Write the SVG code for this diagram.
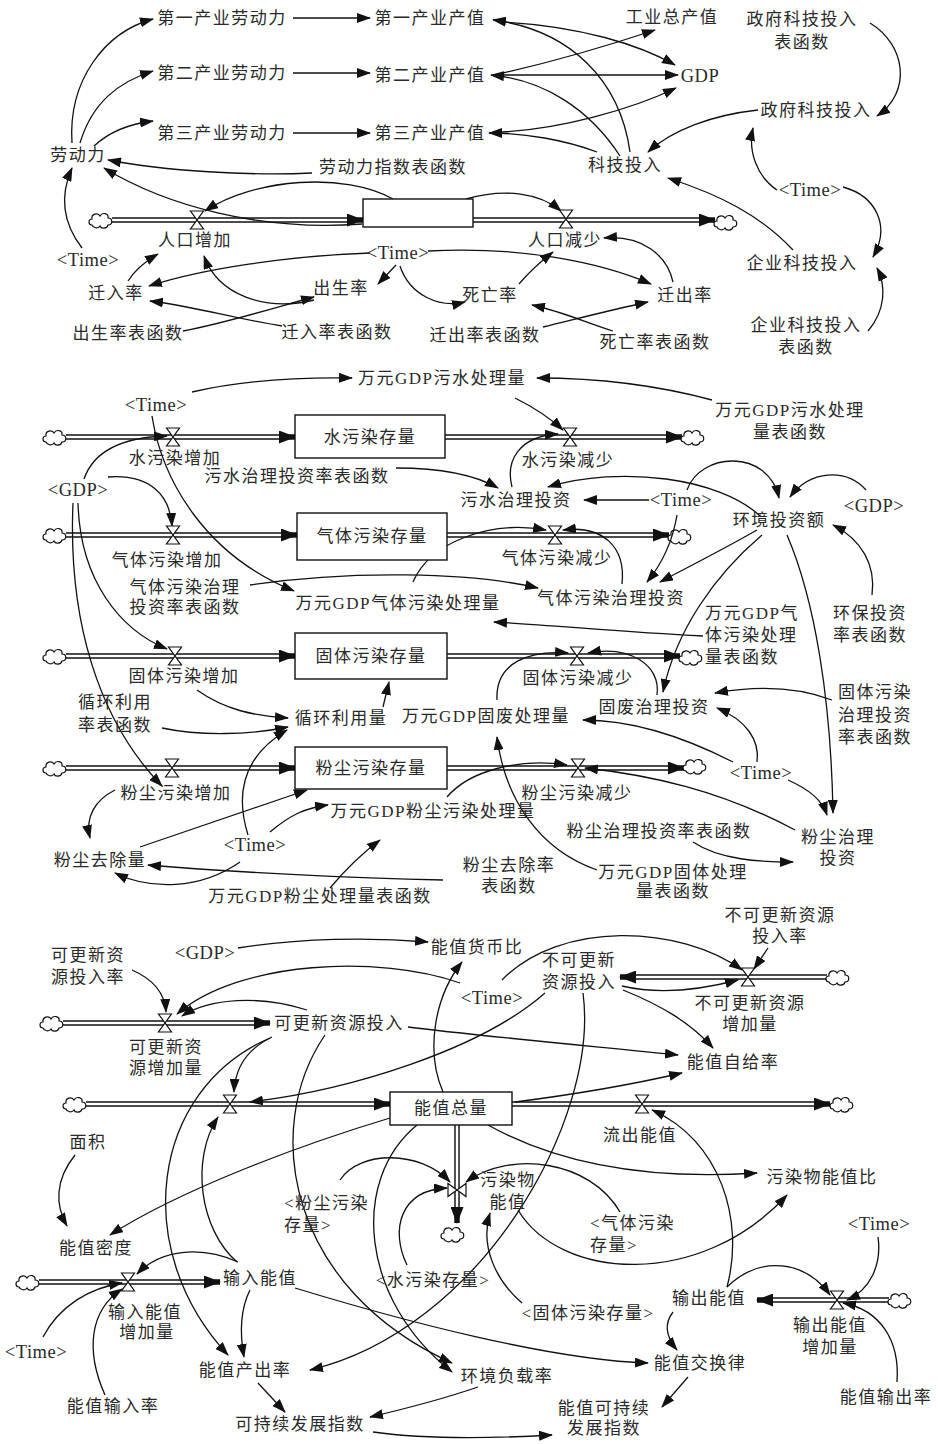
<svg xmlns="http://www.w3.org/2000/svg" width="938" height="1444" viewBox="0 0 938 1444">
<style>
.t{font-family:"Liberation Serif","Noto Sans CJK SC",serif;font-size:17px;letter-spacing:1.5px;text-anchor:middle;dominant-baseline:central;fill:#2a2a2a}
.l{font-size:18.5px;letter-spacing:0.5px}
.s{text-anchor:start}
.c{fill:none;stroke:#111;stroke-width:1.3;marker-end:url(#a)}
.po{fill:none;stroke:#111;stroke-width:5.5}
.pa{marker-end:url(#pa)}
.pi{fill:none;stroke:#fff;stroke-width:2.6}
.box{fill:#fff;stroke:#111;stroke-width:1.4}
.vl{fill:#fff;stroke:#111;stroke-width:1.2}
</style>
<defs>
<marker id="a" viewBox="0 0 14 10" refX="13" refY="5" markerWidth="14" markerHeight="10" markerUnits="userSpaceOnUse" orient="auto"><path d="M0,0 L14,5 L0,10 Z" fill="#111"/></marker>
<marker id="pa" viewBox="0 0 17 13" refX="16" refY="6.5" markerWidth="17" markerHeight="13" markerUnits="userSpaceOnUse" orient="auto"><path d="M0,0 L17,6.5 L0,13 Z" fill="#111"/></marker>
<path id="valve" class="vl" d="M-6.5,-9 H6.5 L-6.5,9 H6.5 Z"/>
<path id="valveV" class="vl" d="M-9,-6.5 V6.5 L9,-6.5 V6.5 Z"/>
<path id="cloud" class="vl" d="M-9,5 C-13,5 -13,-1 -9,-1 C-10,-6 -3,-8 -1,-4 C1,-8 8,-7 7,-2 C12,-2 12,5 7,5 C6,9 0,9 -1,6 C-3,9 -8,8 -9,5 Z"/>
</defs>
<rect width="938" height="1444" fill="#fff"/>

<g id="flows">
<path class="po pa" d="M112,220 H363"/><path class="pi" d="M112,220 H347"/>
<path class="po pa" d="M473,220 H715"/><path class="pi" d="M473,220 H699"/>
<use href="#cloud" x="101" y="220"/><use href="#cloud" x="726" y="222"/>
<path class="po pa" d="M66,437 H295"/><path class="pi" d="M66,437 H279"/>
<path class="po pa" d="M445,437 H682"/><path class="pi" d="M445,437 H666"/>
<use href="#cloud" x="55" y="437"/><use href="#cloud" x="693" y="437"/>
<path class="po pa" d="M66,535 H297"/><path class="pi" d="M66,535 H281"/>
<path class="po pa" d="M447,535 H669"/><path class="pi" d="M447,535 H653"/>
<use href="#cloud" x="55" y="535"/><use href="#cloud" x="680" y="536"/>
<path class="po pa" d="M66,656 H295"/><path class="pi" d="M66,656 H279"/>
<path class="po pa" d="M447,656 H680"/><path class="pi" d="M447,656 H664"/>
<use href="#cloud" x="55" y="656"/><use href="#cloud" x="691" y="657"/>
<path class="po pa" d="M66,768 H295"/><path class="pi" d="M66,768 H279"/>
<path class="po pa" d="M447,768 H684"/><path class="pi" d="M447,768 H668"/>
<use href="#cloud" x="55" y="768"/><use href="#cloud" x="695" y="766"/>
<path class="po pa" d="M63,1023 H270"/><path class="pi" d="M63,1023 H254"/>
<use href="#cloud" x="52" y="1023"/>
<path class="po pa" d="M827,977 H620"/><path class="pi" d="M827,977 H636"/>
<use href="#cloud" x="838" y="977"/>
<path class="po pa" d="M86,1104 H390"/><path class="pi" d="M86,1104 H374"/>
<path class="po pa" d="M512,1104 H830"/><path class="pi" d="M512,1104 H814"/>
<use href="#cloud" x="75" y="1104"/><use href="#cloud" x="842" y="1104"/>
<path class="po pa" d="M457,1125 V1223"/><path class="pi" d="M457,1125 V1207"/>
<use href="#cloud" x="453" y="1234"/>
<path class="po pa" d="M39,1282 H220"/><path class="pi" d="M39,1282 H204"/>
<use href="#cloud" x="28" y="1282"/>
<path class="po pa" d="M889,1300 H757"/><path class="pi" d="M889,1300 H773"/>
<use href="#cloud" x="900" y="1300"/>
</g>

<g id="connectors">
<path class="c" d="M72,143 C68,80 105,32 153,19"/>
<path class="c" d="M80,143 C92,103 118,82 153,71"/>
<path class="c" d="M94,146 C108,133 128,124 153,121"/>
<path class="c" d="M293,18 L370,18"/>
<path class="c" d="M293,73 L370,73"/>
<path class="c" d="M293,133 L370,133"/>
<path class="c" d="M312,173 C250,176 165,171 108,160"/>
<path class="c" d="M362,224 C260,232 165,205 104,168"/>
<path class="c" d="M393,199 C345,172 255,178 205,211"/>
<path class="c" d="M466,199 C505,188 540,193 561,211"/>
<path class="c" d="M82,248 C62,222 60,195 72,168"/>
<path class="c" d="M128,281 C135,270 146,261 158,254"/>
<path class="c" d="M370,253 C290,256 205,268 149,286"/>
<path class="c" d="M396,265 L378,284"/>
<path class="c" d="M400,266 C410,296 440,308 465,302"/>
<path class="c" d="M428,251 C520,246 600,262 651,284"/>
<path class="c" d="M314,300 C265,312 218,295 204,256"/>
<path class="c" d="M183,331 C230,322 280,306 314,297"/>
<path class="c" d="M282,326 C232,318 192,306 150,301"/>
<path class="c" d="M519,284 C530,271 540,262 553,252"/>
<path class="c" d="M673,282 C667,255 642,235 604,238"/>
<path class="c" d="M543,327 C580,318 615,309 648,302"/>
<path class="c" d="M613,331 C585,322 560,311 532,305"/>
<path class="c" d="M503,22 C580,26 640,45 675,65"/>
<path class="c" d="M630,152 C620,80 570,30 493,20"/>
<path class="c" d="M503,75 L678,75"/>
<path class="c" d="M503,73 C560,60 610,45 655,30"/>
<path class="c" d="M620,156 C590,110 545,80 491,75"/>
<path class="c" d="M502,132 C560,129 630,110 676,88"/>
<path class="c" d="M597,152 C565,140 525,133 489,133"/>
<path class="c" d="M758,110 C712,115 672,130 648,152"/>
<path class="c" d="M870,23 C906,45 912,92 877,116"/>
<path class="c" d="M777,190 C756,176 748,150 753,128"/>
<path class="c" d="M843,187 C876,196 891,226 873,257"/>
<path class="c" d="M793,250 C760,215 720,195 668,178"/>
<path class="c" d="M868,331 C886,310 886,285 877,268"/>

<path class="c" d="M192,392 C240,381 290,377 352,378"/>
<path class="c" d="M712,400 C660,386 600,378 537,378"/>
<path class="c" d="M515,398 C535,408 550,418 563,430"/>
<path class="c" d="M512,487 C505,460 520,436 558,434"/>
<path class="c" d="M152,416 C162,480 205,555 294,591"/>
<path class="c" d="M84,479 C95,447 130,437 167,436"/>
<path class="c" d="M108,477 C150,474 170,495 172,526"/>
<path class="c" d="M78,503 C80,580 120,630 167,649"/>
<path class="c" d="M73,503 C68,620 98,720 162,786"/>
<path class="c" d="M396,468 C440,468 475,475 498,488"/>
<path class="c" d="M649,500 L584,500"/>
<path class="c" d="M760,516 C720,478 620,465 548,487"/>
<path class="c" d="M687,490 C700,452 768,448 779,498"/>
<path class="c" d="M866,490 C846,468 810,470 790,497"/>
<path class="c" d="M872,595 C876,565 862,540 833,525"/>
<path class="c" d="M677,515 C672,545 661,565 647,582"/>
<path class="c" d="M757,530 C722,550 692,565 660,582"/>
<path class="c" d="M622,584 C626,546 602,525 563,530"/>
<path class="c" d="M250,585 C350,570 470,572 538,588"/>
<path class="c" d="M413,582 C430,542 490,520 546,530"/>
<path class="c" d="M703,636 C620,632 552,625 494,622"/>
<path class="c" d="M762,535 C715,575 676,630 663,692"/>
<path class="c" d="M787,535 C815,600 831,700 833,813"/>
<path class="c" d="M832,700 C800,688 760,685 715,693"/>
<path class="c" d="M757,762 C760,740 746,720 717,708"/>
<path class="c" d="M733,762 C680,735 630,720 583,720"/>
<path class="c" d="M788,780 C810,790 822,800 827,815"/>
<path class="c" d="M795,830 C720,790 650,775 585,768"/>
<path class="c" d="M657,695 C661,665 630,645 588,653"/>
<path class="c" d="M497,700 C495,662 530,650 568,653"/>
<path class="c" d="M383,707 L389,682"/>
<path class="c" d="M197,690 C225,710 255,716 288,718"/>
<path class="c" d="M162,728 C200,736 250,735 288,727"/>
<path class="c" d="M248,835 C234,790 245,755 287,730"/>
<path class="c" d="M140,847 L307,790"/>
<path class="c" d="M115,790 C95,800 85,817 90,838"/>
<path class="c" d="M270,832 C290,815 305,808 328,805"/>
<path class="c" d="M240,862 C200,890 150,890 115,873"/>
<path class="c" d="M330,888 C345,870 360,855 380,840"/>
<path class="c" d="M443,880 C350,878 230,872 148,865"/>
<path class="c" d="M447,797 C470,770 520,758 567,765"/>
<path class="c" d="M597,870 C540,850 505,800 497,737"/>
<path class="c" d="M693,842 C720,860 760,862 793,862"/>

<path class="c" d="M238,948 C300,938 370,937 428,942"/>
<path class="c" d="M443,1092 C425,1050 435,996 462,962"/>
<path class="c" d="M502,980 C560,920 680,925 742,970"/>
<path class="c" d="M768,948 L754,969"/>
<path class="c" d="M622,986 C660,995 700,990 738,980"/>
<path class="c" d="M623,990 C660,1005 690,1022 713,1048"/>
<path class="c" d="M408,1027 C470,1035 600,1047 678,1055"/>
<path class="c" d="M515,1102 C570,1095 630,1085 682,1073"/>
<path class="c" d="M545,993 C480,1050 350,1090 250,1102"/>
<path class="c" d="M460,983 C380,955 240,960 177,1014"/>
<path class="c" d="M132,970 C155,980 165,995 166,1012"/>
<path class="c" d="M307,1010 C260,995 210,998 182,1016"/>
<path class="c" d="M272,1037 C245,1050 235,1070 234,1092"/>
<path class="c" d="M270,1038 C150,1090 130,1250 228,1355"/>
<path class="c" d="M325,1035 C260,1130 290,1290 452,1363"/>
<path class="c" d="M417,1125 C350,1180 360,1300 452,1372"/>
<path class="c" d="M583,993 C600,1120 480,1330 310,1370"/>
<path class="c" d="M390,1118 C300,1145 180,1190 110,1235"/>
<path class="c" d="M75,1155 C55,1180 55,1205 67,1226"/>
<path class="c" d="M237,1262 C200,1230 190,1160 218,1117"/>
<path class="c" d="M250,1290 C240,1310 240,1335 244,1357"/>
<path class="c" d="M238,1262 C200,1245 160,1250 137,1274"/>
<path class="c" d="M43,1337 C60,1305 90,1288 122,1283"/>
<path class="c" d="M105,1395 C85,1350 90,1310 122,1289"/>
<path class="c" d="M295,1288 C400,1320 550,1360 648,1363"/>
<path class="c" d="M258,1383 L285,1412"/>
<path class="c" d="M478,1387 C440,1400 400,1410 370,1417"/>
<path class="c" d="M373,1432 C430,1440 500,1438 552,1435"/>
<path class="c" d="M688,1377 L662,1407"/>
<path class="c" d="M673,1312 C663,1325 667,1338 677,1350"/>
<path class="c" d="M727,1287 C745,1220 720,1140 652,1110"/>
<path class="c" d="M727,1287 C760,1255 805,1260 830,1295"/>
<path class="c" d="M878,1237 C882,1265 870,1290 847,1300"/>
<path class="c" d="M897,1382 C900,1340 880,1310 843,1303"/>
<path class="c" d="M518,1210 C560,1280 700,1290 787,1195"/>
<path class="c" d="M488,1125 C560,1165 650,1180 757,1173"/>
<path class="c" d="M340,1180 C360,1150 420,1150 450,1182"/>
<path class="c" d="M407,1265 C390,1230 400,1190 447,1188"/>
<path class="c" d="M620,1212 C590,1160 510,1150 466,1182"/>
<path class="c" d="M522,1303 C495,1280 480,1245 490,1213"/>
</g>

<g id="n_l1"><text class="t" x="222" y="18">第一产业劳动力</text></g>
<g id="n_l2"><text class="t" x="222" y="73">第二产业劳动力</text></g>
<g id="n_l3"><text class="t" x="222" y="133">第三产业劳动力</text></g>
<g id="n_v1"><text class="t" x="430" y="18">第一产业产值</text></g>
<g id="n_v2"><text class="t" x="430" y="75">第二产业产值</text></g>
<g id="n_v3"><text class="t" x="430" y="133">第三产业产值</text></g>
<g id="n_labor"><text class="t" x="78" y="155">劳动力</text></g>
<g id="n_lidx"><text class="t" x="393" y="167">劳动力指数表函数</text></g>
<g id="n_pop"><rect class="box" x="363" y="199" width="110" height="28"/></g>
<g id="n_popin"><use href="#valve" x="197" y="220"/><text class="t" x="195" y="240">人口增加</text></g>
<g id="n_popout"><use href="#valve" x="566" y="219"/><text class="t" x="565" y="240">人口减少</text></g>
<g id="n_time1"><text class="t l" x="88" y="260">&lt;Time&gt;</text></g>
<g id="n_time2"><text class="t l" x="398" y="253">&lt;Time&gt;</text></g>
<g id="n_inrate"><text class="t" x="116" y="293">迁入率</text></g>
<g id="n_birth"><text class="t" x="341" y="288">出生率</text></g>
<g id="n_birthf"><text class="t" x="128" y="333">出生率表函数</text></g>
<g id="n_inratef"><text class="t" x="337" y="332">迁入率表函数</text></g>
<g id="n_death"><text class="t" x="490" y="295">死亡率</text></g>
<g id="n_outf"><text class="t" x="485" y="335">迁出率表函数</text></g>
<g id="n_deathf"><text class="t" x="655" y="342">死亡率表函数</text></g>
<g id="n_outrate"><text class="t" x="685" y="295">迁出率</text></g>
<g id="n_indus"><text class="t" x="672" y="17">工业总产值</text></g>
<g id="n_gdp"><text class="t l" x="700" y="76">GDP</text></g>
<g id="n_tech"><text class="t" x="625" y="165">科技投入</text></g>
<g id="n_govf"><text class="t" x="802" y="19">政府科技投入</text><text class="t" x="802" y="42">表函数</text></g>
<g id="n_gov"><text class="t" x="816" y="110">政府科技投入</text></g>
<g id="n_time3"><text class="t l" x="810" y="190">&lt;Time&gt;</text></g>
<g id="n_ent"><text class="t" x="802" y="263">企业科技投入</text></g>
<g id="n_entf"><text class="t" x="806" y="325">企业科技投入</text><text class="t" x="806" y="347">表函数</text></g>

<g id="n_wtp"><text class="t" x="442" y="378">万元GDP污水处理量</text></g>
<g id="n_time4"><text class="t l" x="156" y="405">&lt;Time&gt;</text></g>
<g id="n_wtpf"><text class="t" x="790" y="410">万元GDP污水处理</text><text class="t" x="790" y="432">量表函数</text></g>
<g id="n_water"><rect class="box" x="295" y="415" width="150" height="43"/><text class="t" x="370" y="437">水污染存量</text></g>
<g id="n_win"><use href="#valve" x="173" y="437"/><text class="t" x="175" y="458">水污染增加</text></g>
<g id="n_wout"><use href="#valve" x="570" y="437"/><text class="t" x="568" y="460">水污染减少</text></g>
<g id="n_wif"><text class="t" x="297" y="476">污水治理投资率表函数</text></g>
<g id="n_gdp2"><text class="t l" x="78" y="490">&lt;GDP&gt;</text></g>
<g id="n_winv"><text class="t" x="516" y="500">污水治理投资</text></g>
<g id="n_time5"><text class="t l" x="681" y="500">&lt;Time&gt;</text></g>
<g id="n_env"><text class="t" x="779" y="520">环境投资额</text></g>
<g id="n_gdp3"><text class="t l" x="874" y="506">&lt;GDP&gt;</text></g>
<g id="n_gas"><rect class="box" x="297" y="513" width="150" height="47"/><text class="t" x="372" y="536">气体污染存量</text></g>
<g id="n_gin"><use href="#valve" x="173" y="535"/><text class="t" x="167" y="560">气体污染增加</text></g>
<g id="n_gout"><use href="#valve" x="555" y="535"/><text class="t" x="557" y="558">气体污染减少</text></g>
<g id="n_gif"><text class="t" x="185" y="587">气体污染治理</text><text class="t" x="185" y="607">投资率表函数</text></g>
<g id="n_gtp"><text class="t" x="398" y="603">万元GDP气体污染处理量</text></g>
<g id="n_ginv"><text class="t" x="611" y="598">气体污染治理投资</text></g>
<g id="n_gtpf"><text class="t s" x="705" y="613">万元GDP气</text><text class="t s" x="705" y="635">体污染处理</text><text class="t s" x="705" y="657">量表函数</text></g>
<g id="n_envf"><text class="t" x="870" y="613">环保投资</text><text class="t" x="870" y="635">率表函数</text></g>
<g id="n_solid"><rect class="box" x="295" y="633" width="152" height="46"/><text class="t" x="371" y="656">固体污染存量</text></g>
<g id="n_sin"><use href="#valve" x="175" y="656"/><text class="t" x="184" y="676">固体污染增加</text></g>
<g id="n_sout"><use href="#valve" x="577" y="656"/><text class="t" x="578" y="678">固体污染减少</text></g>
<g id="n_recf"><text class="t" x="115" y="702">循环利用</text><text class="t" x="115" y="725">率表函数</text></g>
<g id="n_rec"><text class="t" x="341" y="718">循环利用量</text></g>
<g id="n_stp"><text class="t" x="486" y="716">万元GDP固废处理量</text></g>
<g id="n_sinv"><text class="t" x="654" y="707">固废治理投资</text></g>
<g id="n_sif"><text class="t" x="875" y="692">固体污染</text><text class="t" x="875" y="715">治理投资</text><text class="t" x="875" y="737">率表函数</text></g>
<g id="n_dust"><rect class="box" x="295" y="747" width="152" height="42"/><text class="t" x="371" y="768">粉尘污染存量</text></g>
<g id="n_din"><use href="#valve" x="172" y="768"/><text class="t" x="176" y="793">粉尘污染增加</text></g>
<g id="n_dout"><use href="#valve" x="578" y="768"/><text class="t" x="577" y="793">粉尘污染减少</text></g>
<g id="n_time6"><text class="t l" x="761" y="773">&lt;Time&gt;</text></g>
<g id="n_dtp"><text class="t" x="433" y="811">万元GDP粉尘污染处理量</text></g>
<g id="n_time7"><text class="t l" x="255" y="845">&lt;Time&gt;</text></g>
<g id="n_drem"><text class="t" x="100" y="860">粉尘去除量</text></g>
<g id="n_dtpf"><text class="t" x="320" y="896">万元GDP粉尘处理量表函数</text></g>
<g id="n_dif"><text class="t" x="659" y="831">粉尘治理投资率表函数</text></g>
<g id="n_dinv"><text class="t" x="838" y="837">粉尘治理</text><text class="t" x="838" y="858">投资</text></g>
<g id="n_dremf"><text class="t" x="509" y="865">粉尘去除率</text><text class="t" x="509" y="886">表函数</text></g>
<g id="n_stpf"><text class="t" x="673" y="872">万元GDP固体处理</text><text class="t" x="673" y="891">量表函数</text></g>

<g id="n_gdp4"><text class="t l" x="205" y="953">&lt;GDP&gt;</text></g>
<g id="n_emr"><text class="t" x="477" y="947">能值货币比</text></g>
<g id="n_rrate"><text class="t" x="88" y="955">可更新资</text><text class="t" x="88" y="977">源投入率</text></g>
<g id="n_nrate"><text class="t" x="780" y="915">不可更新资源</text><text class="t" x="780" y="936">投入率</text></g>
<g id="n_nin"><text class="t" x="579" y="960">不可更新</text><text class="t" x="579" y="982">资源投入</text></g>
<g id="n_time8"><text class="t l" x="492" y="998">&lt;Time&gt;</text></g>
<g id="n_nvalve"><use href="#valve" x="748" y="977"/><text class="t" x="750" y="1003">不可更新资源</text><text class="t" x="750" y="1024">增加量</text></g>
<g id="n_rin"><text class="t" x="339" y="1023">可更新资源投入</text></g>
<g id="n_rvalve"><use href="#valve" x="165" y="1023"/><text class="t" x="166" y="1047">可更新资</text><text class="t" x="166" y="1068">源增加量</text></g>
<g id="n_self"><text class="t" x="733" y="1062">能值自给率</text></g>
<g id="n_total"><rect class="box" x="390" y="1092" width="122" height="33"/><text class="t" x="451" y="1108">能值总量</text></g>
<g id="n_tin"><use href="#valve" x="230" y="1104"/></g>
<g id="n_tout"><use href="#valve" x="642" y="1104"/><text class="t" x="640" y="1135">流出能值</text></g>
<g id="n_area"><text class="t" x="88" y="1142">面积</text></g>
<g id="n_pratio"><text class="t" x="822" y="1177">污染物能值比</text></g>
<g id="n_pval"><use href="#valveV" x="457" y="1190"/><text class="t" x="508" y="1180">污染物</text><text class="t" x="508" y="1202">能值</text></g>
<g id="n_dust2"><text class="t s" x="284" y="1203">&lt;粉尘污染</text><text class="t s" x="284" y="1225">存量&gt;</text></g>
<g id="n_gas2"><text class="t s" x="590" y="1223">&lt;气体污染</text><text class="t s" x="590" y="1245">存量&gt;</text></g>
<g id="n_water2"><text class="t" x="433" y="1280">&lt;水污染存量&gt;</text></g>
<g id="n_solid2"><text class="t" x="588" y="1313">&lt;固体污染存量&gt;</text></g>
<g id="n_dens"><text class="t" x="96" y="1248">能值密度</text></g>
<g id="n_inv"><text class="t" x="260" y="1278">输入能值</text></g>
<g id="n_ivalve"><use href="#valve" x="128" y="1282"/><text class="t" x="145" y="1312">输入能值</text><text class="t" x="147" y="1332">增加量</text></g>
<g id="n_time9"><text class="t l" x="36" y="1352">&lt;Time&gt;</text></g>
<g id="n_out"><text class="t" x="245" y="1370">能值产出率</text></g>
<g id="n_irate"><text class="t" x="113" y="1406">能值输入率</text></g>
<g id="n_sdi"><text class="t" x="300" y="1424">可持续发展指数</text></g>
<g id="n_elr"><text class="t" x="507" y="1376">环境负载率</text></g>
<g id="n_eer"><text class="t" x="700" y="1363">能值交换律</text></g>
<g id="n_esi"><text class="t" x="604" y="1408">能值可持续</text><text class="t" x="604" y="1428">发展指数</text></g>
<g id="n_outv"><text class="t" x="709" y="1298">输出能值</text></g>
<g id="n_ovalve"><use href="#valve" x="837" y="1300"/><text class="t" x="830" y="1325">输出能值</text><text class="t" x="830" y="1347">增加量</text></g>
<g id="n_time10"><text class="t l" x="879" y="1224">&lt;Time&gt;</text></g>
<g id="n_orate"><text class="t" x="886" y="1397">能值输出率</text></g>
</svg>
